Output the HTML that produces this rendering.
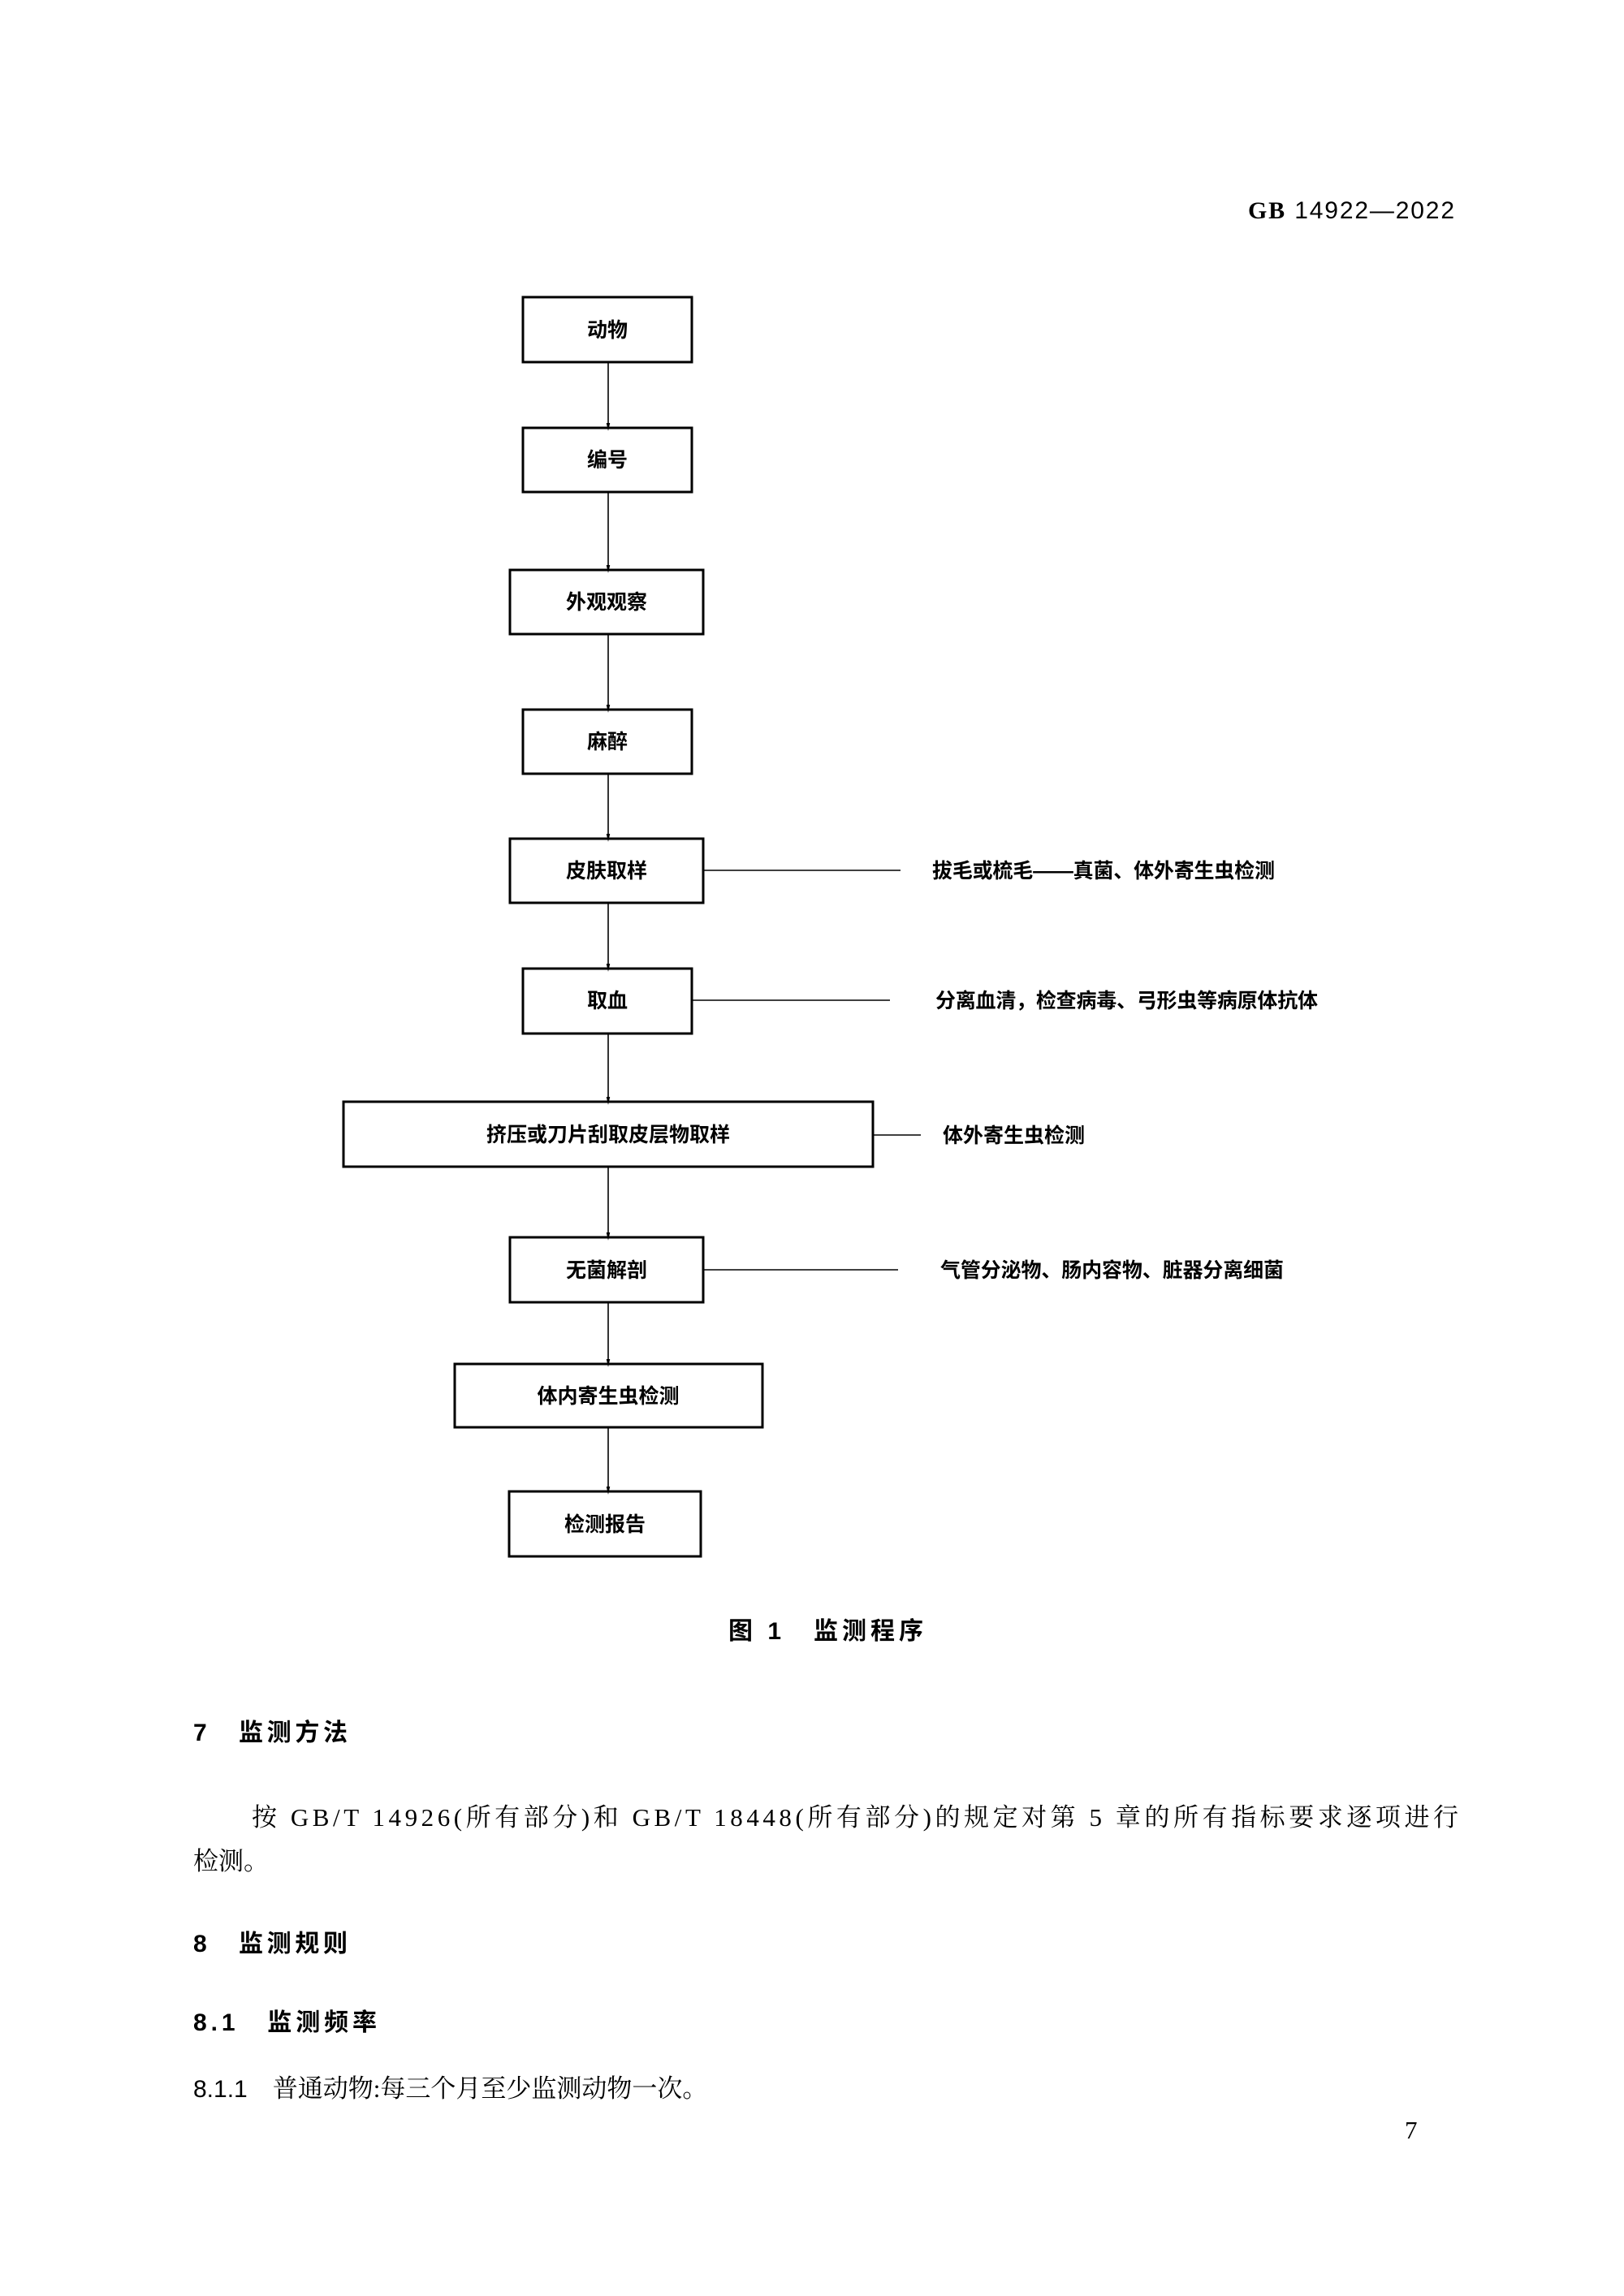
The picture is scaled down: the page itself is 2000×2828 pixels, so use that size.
<!DOCTYPE html>
<html><head><meta charset="utf-8"><style>
html,body{margin:0;padding:0;background:#fff}
svg{display:block}
text{font-family:"Liberation Serif","Noto Serif CJK SC","Noto Sans CJK SC",serif;fill:#000}
.b{font-family:"Liberation Sans","Noto Sans CJK SC",sans-serif;font-size:25px;font-weight:bold}
.h{font-family:"Liberation Sans","Noto Sans CJK SC",sans-serif;font-size:30px;font-weight:bold}
.p{font-family:"Liberation Serif","Noto Serif CJK SC",serif;font-size:31px}
</style></head><body>
<svg width="2000" height="2828" viewBox="0 0 2000 2828" xmlns="http://www.w3.org/2000/svg">
<defs><marker id="a" markerWidth="10" markerHeight="22" refX="9" refY="5" orient="auto" markerUnits="userSpaceOnUse" viewBox="0 0 22 10"><path d="M0,0 L22,5 L0,10 z" fill="#000"/></marker></defs>
<text class="h" x="1537" y="269" textLength="254" style="font-weight:normal"><tspan style="font-family:'Liberation Serif',serif;font-weight:bold">GB</tspan> 14922—2022</text>
<g fill="none" stroke="#000" stroke-width="3">
<rect x="644" y="366" width="208" height="80"/>
<rect x="644" y="527" width="208" height="79"/>
<rect x="628" y="702" width="238" height="79"/>
<rect x="644" y="874" width="208" height="79"/>
<rect x="628" y="1033" width="238" height="79"/>
<rect x="644" y="1193" width="208" height="80"/>
<rect x="423" y="1357" width="652" height="80"/>
<rect x="628" y="1524" width="238" height="80"/>
<rect x="560" y="1680" width="379" height="78"/>
<rect x="627" y="1837" width="236" height="80"/>
</g>
<g stroke="#000" stroke-width="1.6" fill="none">
<line x1="749" y1="446" x2="749" y2="525" marker-end="url(#a)"/>
<line x1="749" y1="606" x2="749" y2="700" marker-end="url(#a)"/>
<line x1="749" y1="781" x2="749" y2="872" marker-end="url(#a)"/>
<line x1="749" y1="953" x2="749" y2="1031" marker-end="url(#a)"/>
<line x1="749" y1="1112" x2="749" y2="1191" marker-end="url(#a)"/>
<line x1="749" y1="1273" x2="749" y2="1355" marker-end="url(#a)"/>
<line x1="749" y1="1437" x2="749" y2="1522" marker-end="url(#a)"/>
<line x1="749" y1="1604" x2="749" y2="1678" marker-end="url(#a)"/>
<line x1="749" y1="1758" x2="749" y2="1835" marker-end="url(#a)"/>
<line x1="866" y1="1072" x2="1109" y2="1072"/>
<line x1="852" y1="1232" x2="1096" y2="1232"/>
<line x1="1075" y1="1398" x2="1134" y2="1398"/>
<line x1="866" y1="1564" x2="1106" y2="1564"/>
</g>
<g text-anchor="middle">
<text class="b" x="748" y="415">动物</text>
<text class="b" x="748" y="575">编号</text>
<text class="b" x="747" y="750">外观观察</text>
<text class="b" x="748" y="922">麻醉</text>
<text class="b" x="747" y="1081">皮肤取样</text>
<text class="b" x="748" y="1241">取血</text>
<text class="b" x="749" y="1406">挤压或刀片刮取皮层物取样</text>
<text class="b" x="747" y="1573">无菌解剖</text>
<text class="b" x="749" y="1728">体内寄生虫检测</text>
<text class="b" x="745" y="1886">检测报告</text>
</g>
<text class="b" x="1148" y="1081" textLength="422">拔毛或梳毛——真菌、体外寄生虫检测</text>
<text class="b" x="1152" y="1241" textLength="471">分离血清，检查病毒、弓形虫等病原体抗体</text>
<text class="b" x="1161" y="1407">体外寄生虫检测</text>
<text class="b" x="1158" y="1573" textLength="423">气管分泌物、肠内容物、脏器分离细菌</text>
<text class="h" x="897" y="2019" textLength="240">图 1　监测程序</text>
<text class="h" x="238" y="2144" textLength="190">7　监测方法</text>
<text class="p" x="310" y="2249" textLength="1486">按 GB/T 14926(所有部分)和 GB/T 18448(所有部分)的规定对第 5 章的所有指标要求逐项进行</text>
<text class="p" x="238" y="2303">检测。</text>
<text class="h" x="238" y="2404" textLength="190">8　监测规则</text>
<text class="h" x="238" y="2501" textLength="226">8.1　监测频率</text>
<text class="p" x="238" y="2583"><tspan style="font-family:'Liberation Sans',sans-serif;font-size:30px">8.1.1</tspan>　普通动物:每三个月至少监测动物一次。</text>
<text class="p" x="1730" y="2634">7</text>
</svg>
</body></html>
